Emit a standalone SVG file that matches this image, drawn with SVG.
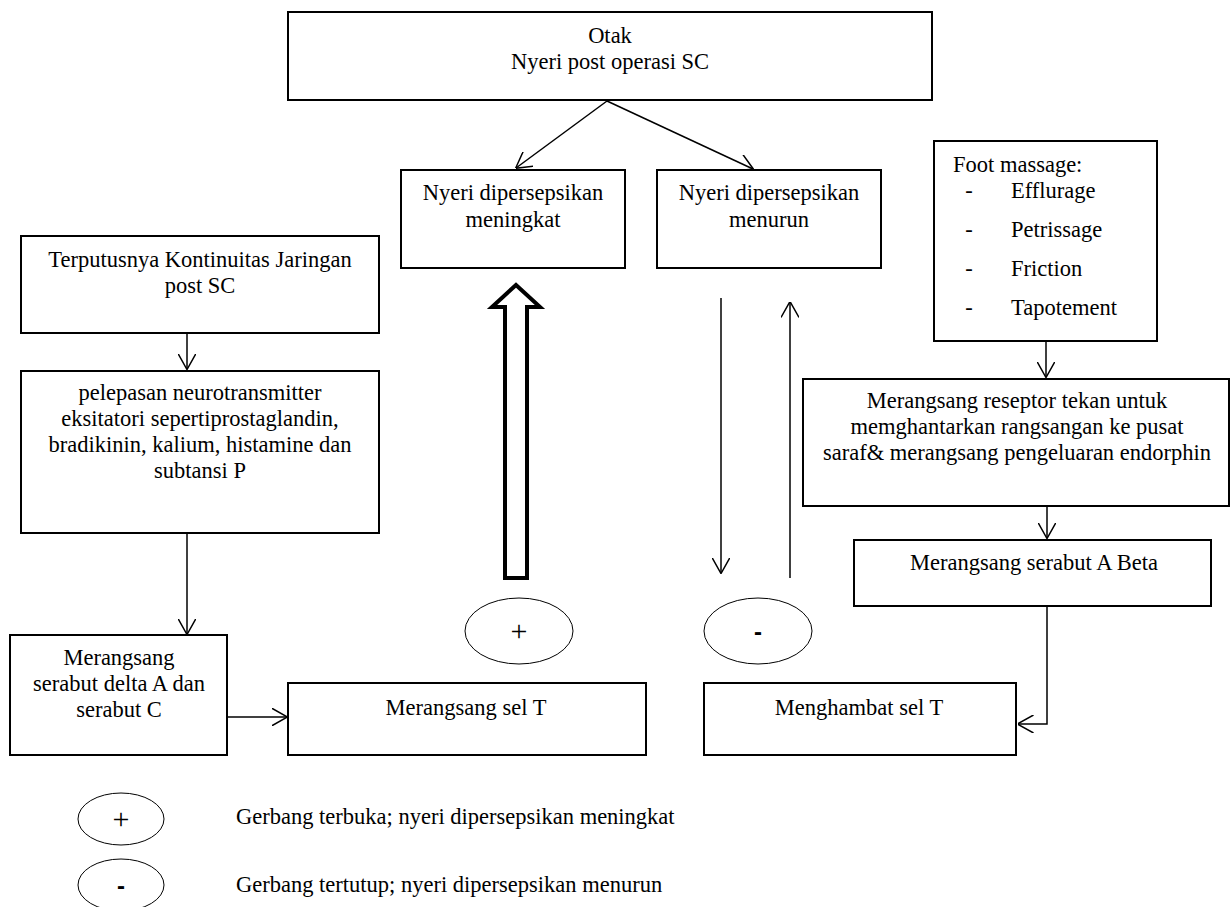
<svg xmlns="http://www.w3.org/2000/svg" width="1231" height="907" viewBox="0 0 1231 907">
<style>
.box{fill:#fff;stroke:#000;stroke-width:2}
.ell{fill:#fff;stroke:#000;stroke-width:1}
.t{font-family:"Liberation Serif","Times New Roman",serif;font-size:22.5px;fill:#000}
.c{text-anchor:middle}
.ln{fill:none;stroke:#000;stroke-width:1.5}
.sym{font-family:"Liberation Serif","Times New Roman",serif;font-size:30px;text-anchor:middle}
.minus{font-family:"Liberation Sans",Arial,sans-serif;font-size:24px;font-weight:bold;text-anchor:middle}
</style>
<defs>
<marker id="ah" viewBox="0 0 16 18" refX="15.5" refY="9" markerWidth="16" markerHeight="18" markerUnits="userSpaceOnUse" orient="auto">
<path d="M0,0 L16,9 L0,18" fill="none" stroke="#000" stroke-width="1.5"/>
</marker>
</defs>
<rect width="1231" height="907" fill="#fff"/>
<g id="connectors">
<line class="ln" x1="607" y1="101" x2="516" y2="168" marker-end="url(#ah)"/>
<line class="ln" x1="607" y1="101" x2="753" y2="169" marker-end="url(#ah)"/>
<line class="ln" x1="187" y1="333" x2="187" y2="369" marker-end="url(#ah)"/>
<line class="ln" x1="187" y1="533" x2="187" y2="634" marker-end="url(#ah)"/>
<line class="ln" x1="227" y1="717" x2="287" y2="717" marker-end="url(#ah)"/>
<line class="ln" x1="1046" y1="341" x2="1046" y2="377" marker-end="url(#ah)"/>
<line class="ln" x1="1047" y1="503" x2="1047" y2="538" marker-end="url(#ah)"/>
<polyline class="ln" points="1047,606 1047,724 1018,724" marker-end="url(#ah)"/>
<line class="ln" x1="721" y1="298" x2="721" y2="573" marker-end="url(#ah)"/>
<line class="ln" x1="790" y1="578" x2="790" y2="302" marker-end="url(#ah)"/>
<polygon points="516,285 540,307 527,307 527,578 505,578 505,307 492,307" fill="#fff" stroke="#000" stroke-width="4" stroke-linejoin="miter"/>
</g>
<g id="otak">
<rect class="box" x="288" y="12" width="644" height="88"/>
<text class="t c" x="610" y="43">Otak</text>
<text class="t c" x="610" y="69">Nyeri post operasi SC</text>
</g>
<g id="meningkat">
<rect class="box" x="401" y="170" width="224" height="98"/>
<text class="t c" x="513" y="200">Nyeri dipersepsikan</text>
<text class="t c" x="513" y="227">meningkat</text>
</g>
<g id="menurun">
<rect class="box" x="657" y="170" width="224" height="98"/>
<text class="t c" x="769" y="200">Nyeri dipersepsikan</text>
<text class="t c" x="769" y="227">menurun</text>
</g>
<g id="foot">
<rect class="box" x="934" y="141" width="223" height="200"/>
<text class="t" x="953" y="172">Foot massage:</text>
<text class="t c" x="969" y="198">-</text>
<text class="t" x="1011" y="198">Efflurage</text>
<text class="t c" x="969" y="237">-</text>
<text class="t" x="1011" y="237">Petrissage</text>
<text class="t c" x="969" y="276">-</text>
<text class="t" x="1011" y="276">Friction</text>
<text class="t c" x="969" y="315">-</text>
<text class="t" x="1011" y="315">Tapotement</text>
</g>
<g id="terputus">
<rect class="box" x="21" y="236" width="358" height="97"/>
<text class="t c" x="200" y="267">Terputusnya Kontinuitas Jaringan</text>
<text class="t c" x="200" y="293">post SC</text>
</g>
<g id="pelepasan">
<rect class="box" x="21" y="371" width="358" height="162"/>
<text class="t c" x="200" y="400">pelepasan neurotransmitter</text>
<text class="t c" x="200" y="426">eksitatori sepertiprostaglandin,</text>
<text class="t c" x="200" y="452">bradikinin, kalium, histamine dan</text>
<text class="t c" x="200" y="478">subtansi P</text>
</g>
<g id="delta">
<rect class="box" x="10" y="635" width="217" height="120"/>
<text class="t c" x="119" y="665">Merangsang</text>
<text class="t c" x="119" y="691">serabut delta A dan</text>
<text class="t c" x="119" y="717">serabut C</text>
</g>
<g id="selT">
<rect class="box" x="288" y="683" width="358" height="72"/>
<text class="t c" x="466" y="715">Merangsang sel T</text>
</g>
<g id="reseptor">
<rect class="box" x="803" y="379" width="426" height="127"/>
<text class="t c" x="1017" y="408">Merangsang reseptor tekan untuk</text>
<text class="t c" x="1017" y="434">memghantarkan rangsangan ke pusat</text>
<text class="t c" x="1017" y="460">saraf&amp; merangsang pengeluaran endorphin</text>
</g>
<g id="abeta">
<rect class="box" x="854" y="540" width="357" height="66"/>
<text class="t c" x="1034" y="570">Merangsang serabut A Beta</text>
</g>
<g id="menghambat">
<rect class="box" x="704" y="683" width="312" height="72"/>
<text class="t c" x="859" y="715">Menghambat sel T</text>
</g>
<g id="gate-plus">
<ellipse class="ell" cx="519" cy="631" rx="54" ry="33"/>
<text class="sym" x="519" y="641">+</text>
</g>
<g id="gate-minus">
<ellipse class="ell" cx="758" cy="631" rx="54" ry="33"/>
<text class="minus" x="758" y="640">-</text>
</g>
<g id="legend-plus">
<ellipse class="ell" cx="121" cy="819" rx="43" ry="26"/>
<text class="sym" x="121" y="829">+</text>
<text class="t" x="236" y="824">Gerbang terbuka; nyeri dipersepsikan meningkat</text>
</g>
<g id="legend-minus">
<ellipse class="ell" cx="121" cy="885" rx="43" ry="26"/>
<text class="minus" x="121" y="894">-</text>
<text class="t" x="236" y="892">Gerbang tertutup; nyeri dipersepsikan menurun</text>
</g>
</svg>
